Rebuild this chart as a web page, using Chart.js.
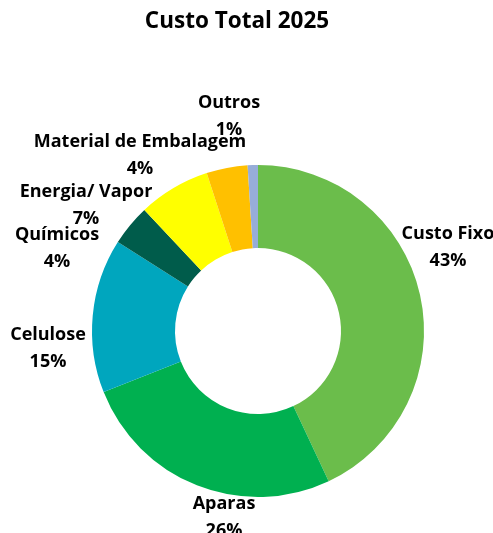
<!DOCTYPE html>
<html>
<head>
<meta charset="utf-8">
<script src="https://cdn.jsdelivr.net/npm/chart.js@4.4.0/dist/chart.umd.min.js"></script>
<style>
  html, body { margin: 0; padding: 0; background: #fff; }
</style>
</head>
<body>
<canvas id="canvas-1" width="493" height="533"></canvas>
<script>
var titulo = 'Custo Total 2025';
var categorias = ['Custo Fixo', 'Aparas', 'Celulose', 'Químicos', 'Energia/ Vapor', 'Material de Embalagem', 'Outros'];
var percentuais = [43, 26, 15, 4, 7, 4, 1];
var cores = ['#6BBD4B', '#00B050', '#00A6BE', '#005C4B', '#FFFF00', '#FFC000', '#97ADD8'];

// where each label block sits, measured from the centre of the ring
var posRotulos = [[190, -84], [-34, 186], [-210, 17], [-201, -83], [-172, -126], [-118, -176], [-29, -215]];

var fonte = '"Open Sans", "Liberation Sans", sans-serif';

var rotulos = {
  id: 'rotulos',
  afterDatasetsDraw: function (chart) {
    var ctx = chart.ctx;
    var arcos = chart.getDatasetMeta(0).data;
    var cx = arcos[0].x;
    var cy = arcos[0].y;
    ctx.save();
    ctx.fillStyle = '#000';
    ctx.textAlign = 'center';
    ctx.textBaseline = 'middle';

    ctx.font = 'bold 22.5px ' + fonte;
    ctx.fillText(titulo, 237, 22);

    ctx.font = 'bold 18px ' + fonte;
    for (var i = 0; i < categorias.length; i++) {
      var x = cx + posRotulos[i][0];
      var y = cy + posRotulos[i][1];
      ctx.fillText(categorias[i], x, y - 13.5);
      ctx.fillText(percentuais[i] + '%', x, y + 13.5);
    }
    ctx.restore();
  }
};

var doughnutChart = new Chart(document.getElementById('canvas-1'), {
  type: 'doughnut',
  data: {
    labels: categorias,
    datasets: [{
      data: percentuais,
      backgroundColor: cores,
      borderWidth: 0
    }]
  },
  options: {
    responsive: false,
    animation: false,
    cutout: '50%',
    layout: {
      padding: { top: 165, left: 92, right: 69, bottom: 36 }
    },
    plugins: {
      legend: { display: false },
      tooltip: { enabled: false },
      title: { display: false }
    }
  },
  plugins: [rotulos]
});
</script>
</body>
</html>
